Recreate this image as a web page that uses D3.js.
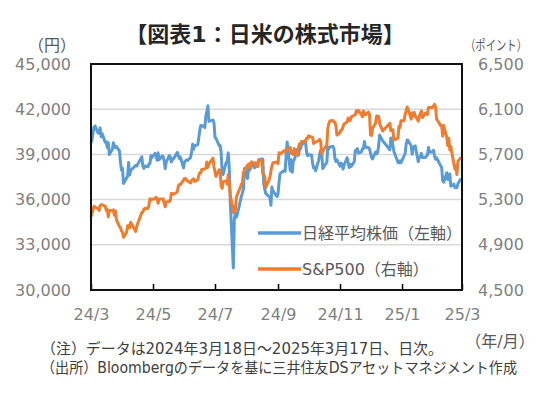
<!DOCTYPE html>
<html>
<head>
<meta charset="utf-8">
<script src="https://cdn.jsdelivr.net/npm/d3@7"></script>
<style>
  body { margin: 0; background: #fff; }
  svg { display: block; font-family: "DejaVu Sans", "Noto Sans CJK JP", sans-serif; }
</style>
</head>
<body>
<div id="chart"></div>
<script>
// Trading days (Tokyo calendar), 2024/3/18 - 2025/3/17
var dates = [
  "2024-03-18","2024-03-19","2024-03-21","2024-03-22","2024-03-25","2024-03-26","2024-03-27","2024-03-28","2024-03-29",
  "2024-04-01","2024-04-02","2024-04-03","2024-04-04","2024-04-05","2024-04-08","2024-04-09","2024-04-10","2024-04-11","2024-04-12",
  "2024-04-15","2024-04-16","2024-04-17","2024-04-18","2024-04-19","2024-04-22","2024-04-23","2024-04-24","2024-04-25","2024-04-26",
  "2024-05-01","2024-05-02","2024-05-07","2024-05-08","2024-05-09","2024-05-10","2024-05-13","2024-05-14","2024-05-15","2024-05-16","2024-05-17",
  "2024-05-20","2024-05-21","2024-05-22","2024-05-23","2024-05-24","2024-05-27","2024-05-28","2024-05-29","2024-05-30","2024-05-31",
  "2024-06-03","2024-06-04","2024-06-05","2024-06-06","2024-06-07","2024-06-10","2024-06-11","2024-06-12","2024-06-13","2024-06-14",
  "2024-06-17","2024-06-18","2024-06-19","2024-06-20","2024-06-21","2024-06-24","2024-06-25","2024-06-26","2024-06-27","2024-06-28",
  "2024-07-01","2024-07-02","2024-07-03","2024-07-04","2024-07-05","2024-07-08","2024-07-09","2024-07-10","2024-07-11","2024-07-12",
  "2024-07-16","2024-07-17","2024-07-18","2024-07-19","2024-07-22","2024-07-23","2024-07-24","2024-07-25","2024-07-26","2024-07-29","2024-07-30","2024-07-31",
  "2024-08-01","2024-08-02","2024-08-05","2024-08-06","2024-08-07","2024-08-08","2024-08-09","2024-08-13","2024-08-14","2024-08-15","2024-08-16",
  "2024-08-19","2024-08-20","2024-08-21","2024-08-22","2024-08-23","2024-08-26","2024-08-27","2024-08-28","2024-08-29","2024-08-30",
  "2024-09-02","2024-09-03","2024-09-04","2024-09-05","2024-09-06","2024-09-09","2024-09-10","2024-09-11","2024-09-12","2024-09-13",
  "2024-09-17","2024-09-18","2024-09-19","2024-09-20","2024-09-24","2024-09-25","2024-09-26","2024-09-27","2024-09-30",
  "2024-10-01","2024-10-02","2024-10-03","2024-10-04","2024-10-07","2024-10-08","2024-10-09","2024-10-10","2024-10-11",
  "2024-10-15","2024-10-16","2024-10-17","2024-10-18","2024-10-21","2024-10-22","2024-10-23","2024-10-24","2024-10-25","2024-10-28","2024-10-29","2024-10-30","2024-10-31",
  "2024-11-01","2024-11-05","2024-11-06","2024-11-07","2024-11-08","2024-11-11","2024-11-12","2024-11-13","2024-11-14","2024-11-15",
  "2024-11-18","2024-11-19","2024-11-20","2024-11-21","2024-11-22","2024-11-25","2024-11-26","2024-11-27","2024-11-28","2024-11-29",
  "2024-12-02","2024-12-03","2024-12-04","2024-12-05","2024-12-06","2024-12-09","2024-12-10","2024-12-11","2024-12-12","2024-12-13",
  "2024-12-16","2024-12-17","2024-12-18","2024-12-19","2024-12-20","2024-12-23","2024-12-24","2024-12-25","2024-12-26","2024-12-27","2024-12-30",
  "2025-01-06","2025-01-07","2025-01-08","2025-01-09","2025-01-10","2025-01-14","2025-01-15","2025-01-16","2025-01-17",
  "2025-01-20","2025-01-21","2025-01-22","2025-01-23","2025-01-24","2025-01-27","2025-01-28","2025-01-29","2025-01-30","2025-01-31",
  "2025-02-03","2025-02-04","2025-02-05","2025-02-06","2025-02-07","2025-02-10","2025-02-12","2025-02-13","2025-02-14",
  "2025-02-17","2025-02-18","2025-02-19","2025-02-20","2025-02-21","2025-02-25","2025-02-26","2025-02-27","2025-02-28",
  "2025-03-03","2025-03-04","2025-03-05","2025-03-06","2025-03-07","2025-03-10","2025-03-11","2025-03-12","2025-03-13","2025-03-14","2025-03-17"
];

// 日経平均株価 (円)
var nikkei = [
  39740,40004,40816,40888,40414,40398,40762,40168,40369,
  39803,39838,39451,39773,38992,39347,39773,39581,39442,39523,
  39232,38471,37961,38079,37068,37438,37552,38460,37628,37934,
  38274,38236,38835,38202,38073,38229,38179,38356,38385,38920,38787,
  39069,38946,38617,39103,38646,38900,38855,38556,38054,38487,
  38923,38837,38490,38703,38683,39038,39134,38876,38720,38814,
  38102,38482,38570,38633,38596,38804,39173,39667,39341,39583,
  39631,40074,40580,40913,40912,40780,41580,41831,42224,41190,
  41275,41097,40126,40063,39599,39594,39154,37869,37667,38468,38526,39101,
  38126,35909,31458,34675,35089,34831,35025,36232,36442,36726,38062,
  37388,38062,37951,38211,38364,38110,38288,38371,38362,38647,
  38700,38686,37047,36657,36391,36215,36159,35620,36833,36581,
  36203,36380,37155,37723,37940,37870,38926,39830,37920,
  38652,37809,38552,38636,39333,38938,39278,39381,39606,
  39911,39181,38911,38982,38955,38412,38105,38143,37914,38605,39027,39277,39081,
  38054,38475,39480,39381,39500,39533,39377,38721,38536,38643,
  38221,38415,38352,38026,38284,38780,38442,38135,38349,38208,
  38513,39249,39277,39395,39091,39161,39368,39373,39849,39470,
  39457,39365,39082,38814,38702,39161,39037,39131,39569,40282,39895,
  39307,40083,39982,39605,39190,38475,38445,38573,38451,
  38903,39028,39646,39959,39932,39566,39017,39415,39514,39572,
  38520,38799,38832,39067,38787,38801,38964,39462,39149,
  39174,39270,38888,38678,38777,38238,38142,37256,37155,
  37786,37331,37418,37705,36887,37028,36793,36819,36790,37053,37396
];

// S&P500 (ポイント)
var sp500 = [
  5149,5179,5241,5234,5218,5204,5248,5254,5254,
  5243,5205,5211,5147,5204,5202,5209,5161,5199,5123,
  5061,5051,5022,5011,4967,5010,5070,5072,5048,5100,
  5018,5064,5187,5188,5214,5223,5221,5247,5308,5297,5303,
  5308,5321,5307,5268,5305,5305,5306,5267,5236,5278,
  5283,5291,5354,5353,5347,5361,5375,5421,5434,5432,
  5473,5487,5487,5473,5465,5448,5469,5478,5483,5460,
  5475,5509,5537,5537,5567,5572,5577,5633,5585,5615,
  5667,5589,5545,5505,5564,5556,5427,5399,5459,5464,5436,5522,
  5446,5346,5186,5240,5199,5319,5344,5434,5455,5543,5554,
  5608,5597,5620,5571,5634,5617,5626,5592,5592,5648,
  5648,5529,5520,5503,5408,5471,5496,5554,5596,5626,
  5634,5618,5714,5703,5732,5722,5745,5738,5762,
  5709,5710,5699,5751,5696,5751,5792,5780,5815,
  5815,5843,5841,5864,5853,5851,5797,5809,5808,5823,5833,5813,5705,
  5728,5782,5929,5973,5996,6001,5984,5985,5949,5871,
  5893,5917,5917,5948,5969,5987,6021,5999,5999,6032,
  6047,6050,6086,6075,6090,6053,6034,6084,6051,6051,
  6074,6051,5872,5867,5931,5975,6040,6040,6037,5971,5907,
  5975,5909,5918,5918,5827,5843,5950,5937,5997,
  5997,6049,6086,6119,6101,6012,6068,6039,6071,6041,
  5994,6038,6061,6084,6026,6066,6052,6115,6115,
  6115,6129,6144,6118,6013,5955,5956,5861,5955,
  5850,5778,5843,5739,5770,5615,5572,5599,5522,5639,5675
];

var xTickDates = ["2024-03-18","2024-05-18","2024-07-18","2024-09-18","2024-11-18","2025-01-18","2025-03-18"];
var xTickLabels = ["24/3","24/5","24/7","24/9","24/11","25/1","25/3"];
var leftTicks = [30000, 33000, 36000, 39000, 42000, 45000];
var rightTicks = [4500, 4900, 5300, 5700, 6100, 6500];
var seriesNames = ["日経平均株価（左軸）", "S&P500（右軸）"];
var colors = ["#5b9bd5", "#ed7d31"];

var width = 550,
    height = 397,
    margin = { top: 64, right: 88, bottom: 107, left: 91 };

var parse = d3.timeParse("%Y-%m-%d");
var days = dates.map(parse);

var svg = d3.select("#chart")
    .append("svg")
    .attr("width", width)
    .attr("height", height);

var x = d3.scaleTime()
    .domain([parse("2024-03-18"), parse("2025-03-18")])
    .range([margin.left, width - margin.right]);

var yL = d3.scaleLinear()
    .domain([30000, 45000])
    .range([height - margin.bottom, margin.top]);

var yR = d3.scaleLinear()
    .domain([4500, 6500])
    .range([height - margin.bottom, margin.top]);

// gridlines
svg.append("g")
    .selectAll("line")
    .data(leftTicks.slice(1, -1))
    .enter().append("line")
    .attr("x1", margin.left)
    .attr("x2", width - margin.right)
    .attr("y1", d => yL(d))
    .attr("y2", d => yL(d))
    .attr("stroke", "#d9d9d9")
    .attr("stroke-width", 1.5);

// left axis labels
svg.append("g")
    .call(d3.axisLeft(yL).tickValues(leftTicks).tickSize(0).tickPadding(20).tickFormat(d3.format(",")))
    .call(g => g.select(".domain").remove())
    .attr("transform", `translate(${margin.left},0)`)
    .selectAll("text")
    .attr("font-size", 16)
    .attr("font-family", "DejaVu Sans")
    .attr("fill", "#7f7f7f");

// right axis labels
svg.append("g")
    .call(d3.axisRight(yR).tickValues(rightTicks).tickSize(0).tickPadding(16).tickFormat(d3.format(",")))
    .call(g => g.select(".domain").remove())
    .attr("transform", `translate(${width - margin.right},0)`)
    .selectAll("text")
    .attr("font-size", 16)
    .attr("font-family", "DejaVu Sans")
    .attr("fill", "#7f7f7f");

// bottom axis: inner ticks + labels
var xAxis = svg.append("g")
    .attr("transform", `translate(0,${height - margin.bottom})`)
    .call(d3.axisBottom(x)
        .tickValues(xTickDates.map(parse))
        .tickSizeInner(-6)
        .tickSizeOuter(0)
        .tickPadding(19)
        .tickFormat((d, i) => xTickLabels[i]));
xAxis.select(".domain").remove();
xAxis.selectAll("line").attr("stroke", "#000").attr("stroke-width", 1.5);
xAxis.selectAll("text")
    .attr("font-size", 16)
    .attr("font-family", "DejaVu Sans")
    .attr("fill", "#7f7f7f");

// lines
var lineL = d3.line().x((d, i) => x(days[i])).y(d => yL(d));
var lineR = d3.line().x((d, i) => x(days[i])).y(d => yR(d));

svg.append("path")
    .datum(nikkei)
    .attr("d", lineL)
    .attr("fill", "none")
    .attr("stroke", colors[0])
    .attr("stroke-width", 3)
    .attr("stroke-linejoin", "round");

svg.append("path")
    .datum(sp500)
    .attr("d", lineR)
    .attr("fill", "none")
    .attr("stroke", colors[1])
    .attr("stroke-width", 3)
    .attr("stroke-linejoin", "round");

// plot border
svg.append("rect")
    .attr("x", margin.left)
    .attr("y", margin.top)
    .attr("width", width - margin.left - margin.right)
    .attr("height", height - margin.top - margin.bottom)
    .attr("fill", "none")
    .attr("stroke", "#111")
    .attr("stroke-width", 2);

// legend
var legend = svg.append("g")
    .selectAll("g")
    .data(seriesNames)
    .enter().append("g")
    .attr("transform", (d, i) => `translate(258,${233 + i * 36})`);
legend.append("line")
    .attr("x1", 0).attr("x2", 43)
    .attr("stroke", (d, i) => colors[i])
    .attr("stroke-width", 3.5);
legend.append("text")
    .attr("x", 44)
    .attr("dy", "0.36em")
    .attr("font-size", 16)
    .attr("fill", "#595959")
    .text(d => d);

// titles and notes
svg.append("text")
    .attr("x", 265).attr("y", 42)
    .attr("text-anchor", "middle")
    .attr("font-size", 22)
    .attr("font-weight", "bold")
    .attr("fill", "#262626")
    .text("【図表1：日米の株式市場】");

svg.append("text")
    .attr("x", 52).attr("y", 51)
    .attr("text-anchor", "middle")
    .attr("font-size", 16)
    .attr("fill", "#595959")
    .text("（円）");

svg.append("text")
    .attr("x", 496).attr("y", 50)
    .attr("text-anchor", "middle")
    .attr("font-size", 14)
    .attr("textLength", 62)
    .attr("lengthAdjust", "spacingAndGlyphs")
    .attr("fill", "#595959")
    .text("（ポイント）");

svg.append("text")
    .attr("x", 500).attr("y", 347)
    .attr("text-anchor", "middle")
    .attr("font-size", 16)
    .attr("fill", "#595959")
    .text("（年/月）");

svg.append("text")
    .attr("x", 41).attr("y", 354)
    .attr("font-size", 15)
    .attr("textLength", 402)
    .attr("lengthAdjust", "spacingAndGlyphs")
    .attr("fill", "#404040")
    .text("（注）データは2024年3月18日～2025年3月17日、日次。");

svg.append("text")
    .attr("x", 41).attr("y", 373)
    .attr("font-size", 15)
    .attr("textLength", 476)
    .attr("lengthAdjust", "spacingAndGlyphs")
    .attr("fill", "#404040")
    .text("（出所）Bloombergのデータを基に三井住友DSアセットマネジメント作成");
</script>
</body>
</html>
